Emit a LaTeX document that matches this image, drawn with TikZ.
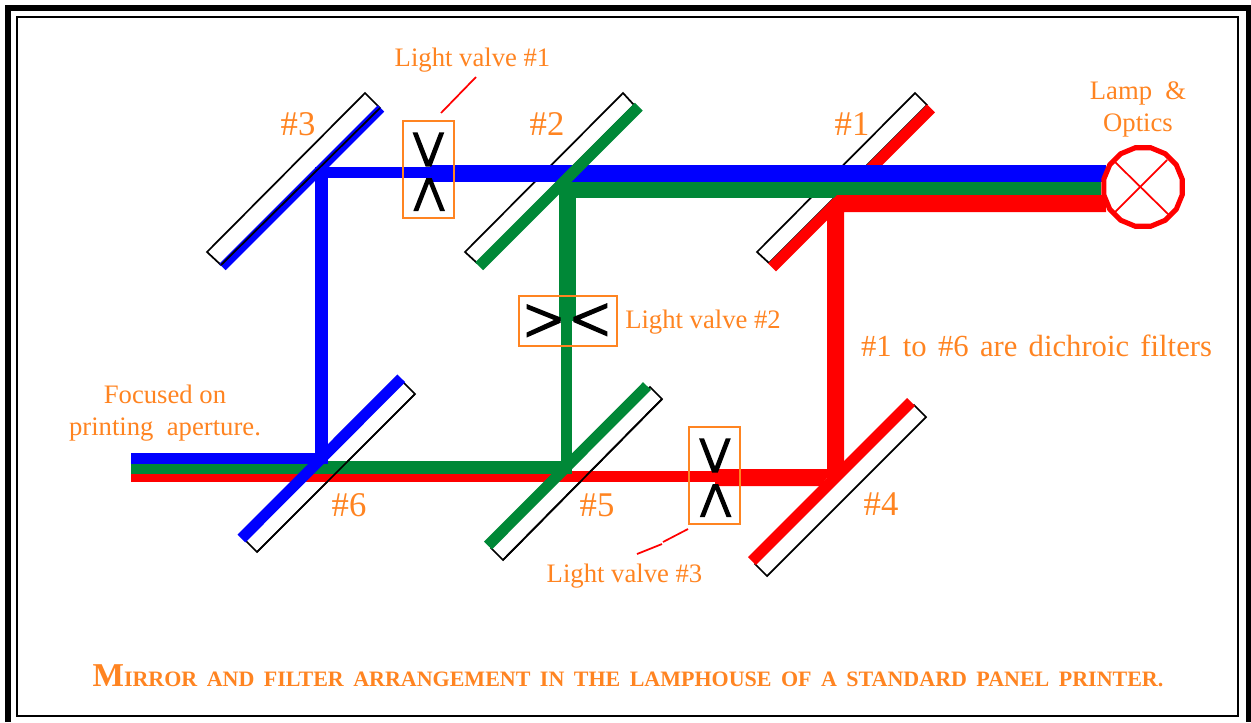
\documentclass[tikz,border=0pt]{standalone}
\usepackage{fontspec}
\setmainfont{Liberation Serif}
\usetikzlibrary{shapes.geometric}
\definecolor{lblorange}{HTML}{FF8421}
\definecolor{beamgreen}{HTML}{008837}
\definecolor{beamblue}{HTML}{0000FF}
\definecolor{beamred}{HTML}{FF0000}
\tikzset{
 x=0.75pt,y=-0.75pt,
 filterrect/.style={draw=black,line width=1.3pt,line join=miter},
 mirror/.style={line width=8.25pt},
 valvebox/.style={draw=lblorange,line width=1.5pt,inner sep=0pt},
 gate/.style={fill=black},
 leader/.style={draw=beamred,line width=1.3pt},
 lbl/.style={text=lblorange,inner sep=0pt,font=\fontsize{20}{24}\selectfont,align=center},
 num/.style={text=lblorange,inner sep=0pt,font=\fontsize{26}{30}\selectfont},
 gatepair/.pic={
  \fill[gate] (-16,-39.7)--(-11,-39.7)--(0,-11.5)--(10.8,-39.7)--(15.8,-39.7)--(2.8,-5.3)--(-2.8,-5.3)--cycle;
  \fill[gate] (-15.2,39)--(-10.2,39)--(0.5,11.5)--(11.5,39)--(16.5,39)--(3.2,6)--(-2.2,6)--cycle;
 },
}
\begin{document}
\begin{tikzpicture}
\useasboundingbox (0,0) rectangle (1251,722);
% frames
\fill[white] (0,0) rectangle (1251,722);
\draw[black,line width=4.3pt,line join=miter] (8,722)--(8,7.7)--(1248.5,7.7)--(1248.5,722);
\draw[black,line width=1.5pt] (17,17) rectangle (1238,716);
% filter outlines
\draw[filterrect] (365,93)--(380,108)--(221,265)--(207,252)--cycle;
\draw[filterrect] (623,93)--(634,105)--(477,263)--(465,252)--cycle;
\draw[filterrect] (915,93)--(927,105)--(769,263)--(757,252)--cycle;
\draw[filterrect] (403,382)--(415,394)--(257,552)--(245,540)--cycle;
\draw[filterrect] (650,387)--(662,399)--(503,560)--(491,548)--cycle;
\draw[filterrect] (914,405)--(926,417)--(767,576)--(755,564)--cycle;
% mirrors beneath the beams
\draw[mirror,draw=beamred] (931,108.5)--(772,267.5);
\draw[line width=6.8pt,draw=beamblue] (381,108.5)--(222.5,267);
% blue path
\fill[beamblue] (315,167) rectangle (430,178);
\fill[beamblue] (430,165) rectangle (1106,182);
\fill[beamblue] (315,167) rectangle (328,464);
\fill[beamblue] (131,453) rectangle (328,464);
% lower green and red beams
\fill[beamgreen] (131,464) rectangle (572,474);
\fill[beamgreen] (328,461) rectangle (572,474);
\fill[beamred] (131,474) rectangle (715,482);
\fill[beamred] (572,471) rectangle (715,482);
\fill[beamred] (715,469)--(835,469)--(820,486)--(715,486)--cycle;
% top green and red
\fill[beamgreen] (559,182) rectangle (1101,198);
\fill[beamgreen] (559,182) rectangle (576,321);
\fill[beamgreen] (561,321) rectangle (572,470);
\fill[beamred] (837,195)--(1106,195)--(1106,212)--(844,212)--(844,470)--(827,486)--(827,205)--cycle;
% mirrors above the beams
\draw[mirror,draw=beamgreen] (638.75,106.75)--(479.25,266.25);
\draw[mirror,draw=beamgreen] (647,386)--(488,545.5);
\draw[mirror,draw=beamblue] (401.3,378.3)--(241.5,538.5);
\draw[mirror,draw=beamred] (911,402)--(752,561);
\fill[beamblue] (315,440) rectangle (328,464);
\fill[beamgreen] (562,440) rectangle (572,470);
\draw[filterrect] (380,108)--(221,265);
\draw[line width=1.3pt] (415,394)--(257,552);
\draw[line width=1.3pt] (662,399)--(503,560);
% valves
\node[valvebox,minimum width=38.25pt,minimum height=72.75pt] (vone) at (428.5,169.5) {};
\node[valvebox,minimum width=38.25pt,minimum height=72.75pt] (vthree) at (714.5,475.5) {};
\node[valvebox,minimum width=73.5pt,minimum height=37.5pt] (vtwo) at (568,321) {};
\pic at (428.5,172) {gatepair};
\pic at (715,478) {gatepair};
\fill[gate] (526.7,304)--(526.7,309)--(554,320)--(526.7,332.5)--(526.7,337.5)--(560.7,322.7)--(560.7,317.5)--cycle;
\fill[gate] (607.3,303)--(607.3,308)--(580,319.5)--(607.3,331.5)--(607.3,336.5)--(573.3,322)--(573.3,317)--cycle;
% lamp
\node[regular polygon,regular polygon sides=16,draw=beamred,line width=3.8pt,minimum size=60pt,inner sep=0pt] (lamp) at (1143,187) {};
\draw[beamred,line width=1.3pt] (1115,162)--(1169,215);
\draw[beamred,line width=1.3pt] (1167,160)--(1114,213);
% labels
\node[lbl] (t1) at (472.5,60) {Light valve \#1};
\node[lbl] (t2) at (703,322.5) {Light valve \#2};
\node[lbl] (t3) at (624.5,576) {Light valve \#3};
\node[lbl] (tlamp) at (1138,109) {Lamp \ \&\\Optics};
\node[lbl] (tfocus) at (165,413) {Focused on\\printing \ aperture.};
\node[num] (n1) at (852,124) {\#1};
\node[num] (n2) at (547,124) {\#2};
\node[num] (n3) at (298,124) {\#3};
\node[num] (n4) at (881,504) {\#4};
\node[num] (n5) at (597,505) {\#5};
\node[num] (n6) at (349,505) {\#6};
\node[lbl,font=\fontsize{23}{26}\selectfont] (tdich) at (1036.5,346) {\spaceskip=8.45pt\relax \#1 to \#6 are dichroic filters};
\node[text=lblorange,inner sep=0pt,font=\bfseries\fontsize{16.5}{20}\selectfont] (caption) at (628,676) {\spaceskip=7.1pt\relax {\fontsize{25}{28}\selectfont M}IRROR AND FILTER ARRANGEMENT IN THE LAMPHOUSE OF A STANDARD PANEL PRINTER.};
% leaders
\coordinate (l1a) at (441,113); \coordinate (l1b) at (476,77);
\draw[leader] (l1a)--(l1b);
\coordinate (l3a) at (688,529); \coordinate (l3b) at (663,542);
\coordinate (l3c) at (662,544); \coordinate (l3d) at (637,554);
\draw[leader] (l3a)--(l3b); \draw[leader] (l3c)--(l3d);
\end{tikzpicture}
\end{document}
